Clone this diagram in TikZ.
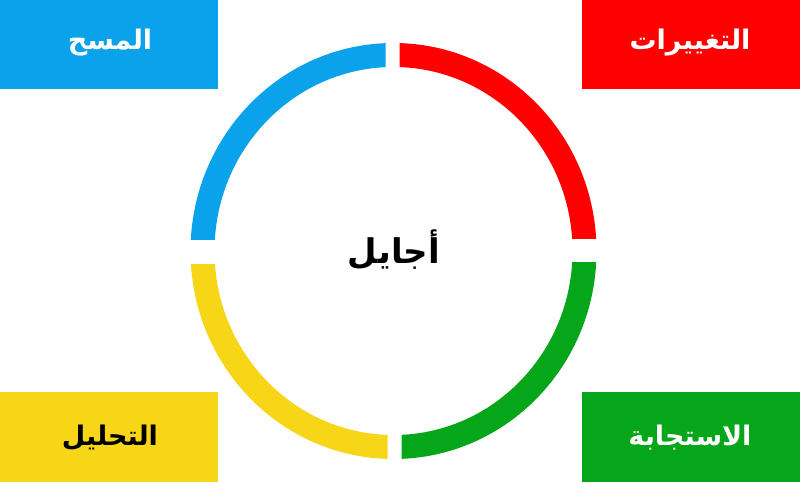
\documentclass[tikz,border=0pt]{standalone}
\usepackage{fontspec}
\TeXXeTstate=1
\newfontfamily\arabicfont[Script=Arabic]{DejaVu Sans}
\definecolor{cblue}{HTML}{0AA3EB}
\definecolor{cred}{HTML}{FF0000}
\definecolor{cgreen}{HTML}{05A61A}
\definecolor{cyellow}{HTML}{F7D517}
\tikzset{
  box/.style={fill=#1, draw=none},
  lbl/.style={font=\arabicfont\bfseries\fontsize{27}{32}\selectfont, text=#1},
  ring/.style={draw=#1, line width=24pt},
}
\begin{document}
\begin{tikzpicture}[x=1pt,y=-1pt]
\useasboundingbox (0,0) rectangle (800,482);
% corner boxes
\fill[box=cblue] (0,0) rectangle (218,89);
\fill[box=cred] (582,0) rectangle (800,89);
\fill[box=cyellow] (0,392) rectangle (218,482);
\fill[box=cgreen] (582,392) rectangle (800,482);
\node[lbl=white] (mas) at (110,43) {\beginR المسح\endR};
\node[lbl=white] (tag) at (690,43) {\beginR التغييرات\endR};
\node[lbl=black] (tah) at (110,438) {\beginR التحليل\endR};
\node[lbl=white] (ist) at (690,438) {\beginR الاستجابة\endR};
% ring
\coordinate (c) at (393.5,251);
\begin{scope}
\clip (0,0) rectangle (385.5,239);
\draw[ring=cblue] (c) ellipse [x radius=191, y radius=196];
\end{scope}
\begin{scope}
\clip (399.5,0) rectangle (800,238);
\draw[ring=cred] (c) ellipse [x radius=191, y radius=196];
\end{scope}
\begin{scope}
\clip (401.5,262) rectangle (800,482);
\draw[ring=cgreen] (c) ellipse [x radius=191, y radius=196];
\end{scope}
\begin{scope}
\clip (0,264) rectangle (387.5,482);
\draw[ring=cyellow] (c) ellipse [x radius=191, y radius=196];
\end{scope}
\node[font=\arabicfont\bfseries\fontsize{34}{40}\selectfont] (agile) at (394,250) {\beginR أجايل\endR};
\end{tikzpicture}
\end{document}
